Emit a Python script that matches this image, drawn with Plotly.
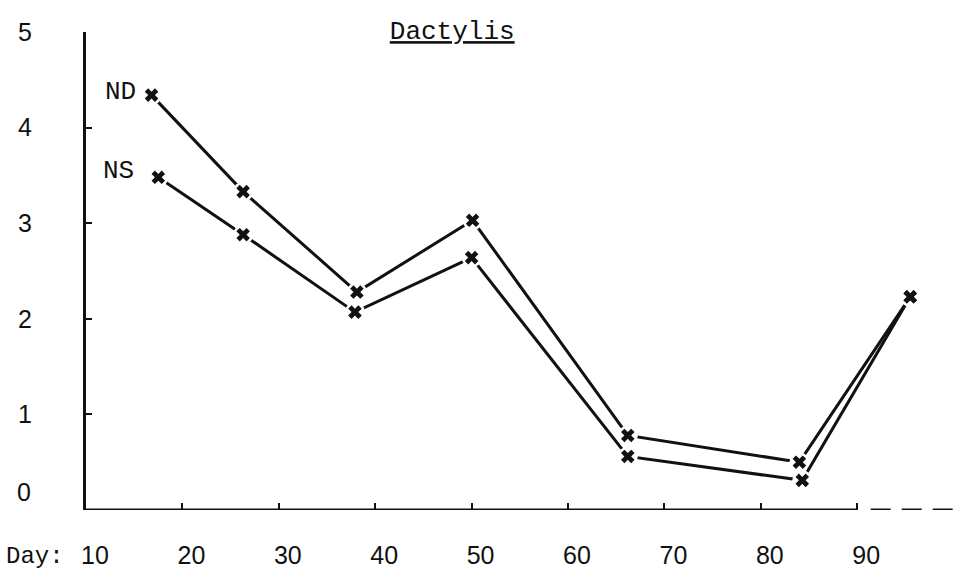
import plotly.graph_objects as go

# ---- data ----
title_text = "Dactylis"
series_names = ["ND", "NS"]
days_nd = [16.8, 26.3, 38.1, 50.1, 66.2, 84.0, 95.5]
values_nd = [4.34, 3.33, 2.28, 3.03, 0.78, 0.50, 2.23]
days_ns = [17.5, 26.3, 37.9, 50.0, 66.2, 84.3, 95.5]
values_ns = [3.48, 2.88, 2.07, 2.64, 0.56, 0.31, 2.23]
x_ticks = [10, 20, 30, 40, 50, 60, 70, 80, 90]
y_ticks = [1, 2, 3, 4, 5]
x_axis_label = "Day:"
x_range = [10, 100.04]
y_range = [0, 5]
solid_axis_end = 90

mono = "Liberation Mono, DejaVu Sans Mono, monospace"
sans = "Liberation Sans, Arial, sans-serif"
INK = "#111111"

fig = go.Figure()

# connecting lines
for xs, ys, name in [(days_nd, values_nd, "ND"), (days_ns, values_ns, "NS")]:
    fig.add_trace(go.Scatter(x=xs, y=ys, mode="lines", name=name,
                             line=dict(color=INK, width=3), showlegend=False,
                             hoverinfo="skip"))
# white gaps around the crosses
for xs, ys in [(days_nd, values_nd), (days_ns, values_ns)]:
    fig.add_trace(go.Scatter(x=xs, y=ys, mode="markers",
                             marker=dict(symbol="circle", size=20, color="white"),
                             showlegend=False, hoverinfo="skip"))
# crosses
for xs, ys, name in [(days_nd, values_nd, "ND"), (days_ns, values_ns, "NS")]:
    fig.add_trace(go.Scatter(x=xs, y=ys, mode="markers", name=name,
                             marker=dict(symbol="x", size=12, color=INK),
                             showlegend=False))

# x axis: solid up to day 90, dashed beyond
fig.add_shape(type="line", xref="x", yref="y", x0=x_range[0], x1=solid_axis_end,
              y0=0, y1=0, line=dict(color=INK, width=3))
fig.add_shape(type="line", xref="x", yref="y", x0=solid_axis_end + 1.4, x1=x_range[1],
              y0=0, y1=0, line=dict(color=INK, width=3, dash="20px,11px"))

# series labels
fig.add_annotation(x=days_nd[0], y=values_nd[0], text=series_names[0], showarrow=False,
                   xanchor="right", yanchor="middle", xshift=-14, yshift=3,
                   font=dict(family=mono, size=26, color=INK))
fig.add_annotation(x=days_ns[0], y=values_ns[0], text=series_names[1], showarrow=False,
                   xanchor="right", yanchor="middle", xshift=-22, yshift=6,
                   font=dict(family=mono, size=26, color=INK))
# "0" label on y axis (sits a little above the axis in the original)
fig.add_annotation(xref="paper", x=0, y=0, text="0", showarrow=False,
                   xanchor="right", yanchor="middle", xshift=-53, yshift=18,
                   font=dict(family=sans, size=25, color=INK))
# "Day:" label
fig.add_annotation(xref="paper", yref="paper", x=0, y=0, text=x_axis_label,
                   showarrow=False, xanchor="right", yanchor="middle",
                   xshift=-20, yshift=-46,
                   font=dict(family=mono, size=24, color=INK))

fig.update_layout(
    width=954, height=575,
    margin=dict(l=86, r=0, t=32, b=65),
    paper_bgcolor="white", plot_bgcolor="white",
    title=dict(text="<u>" + title_text + "</u>", x=0.474, xanchor="center",
               y=1 - 30 / 575, yanchor="middle",
               font=dict(family=mono, size=26, color=INK)),
    xaxis=dict(range=x_range, tickvals=x_ticks, ticktext=[str(t) for t in x_ticks],
               showgrid=False, zeroline=False, showline=False,
               ticks="inside", ticklen=7, tickwidth=2, tickcolor=INK,
               ticklabelstandoff=28, ticklabelshift=9,
               tickfont=dict(family=sans, size=25, color=INK)),
    yaxis=dict(range=y_range, tickvals=y_ticks, ticktext=[str(t) for t in y_ticks],
               showgrid=False, zeroline=False, showline=True, linecolor=INK, linewidth=3,
               ticks="inside", ticklen=6, tickwidth=2, tickcolor=INK,
               ticklabelstandoff=46,
               tickfont=dict(family=sans, size=25, color=INK)),
)

fig.write_html("out.html", config={"displayModeBar": False},
               post_script="document.body.style.margin='0';document.body.style.overflow='hidden';")
